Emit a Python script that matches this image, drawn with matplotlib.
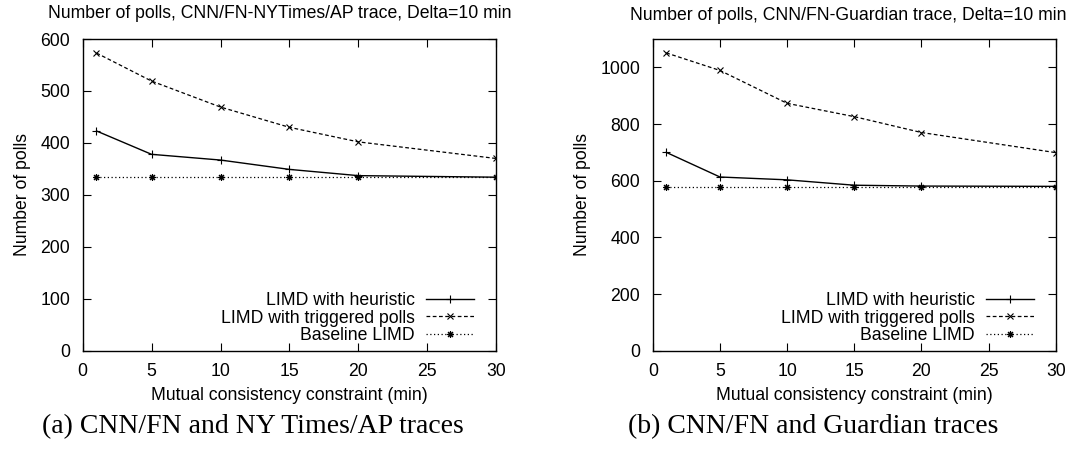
import matplotlib
matplotlib.use('Agg')
import matplotlib.pyplot as plt

# data
x = [1, 5, 10, 15, 20, 30]

nyt_heuristic = [423, 378, 367, 349, 337, 334]
nyt_triggered = [573, 519, 469, 430, 402, 370]
nyt_baseline = [334, 334, 334, 334, 334, 334]

gdn_heuristic = [700, 613, 603, 584, 581, 580]
gdn_triggered = [1051, 989, 873, 826, 770, 699]
gdn_baseline = [579, 579, 579, 579, 579, 579]

titles = ["Number of polls, CNN/FN-NYTimes/AP trace, Delta=10 min",
          "Number of polls, CNN/FN-Guardian trace, Delta=10 min"]
captions = ["(a) CNN/FN and NY Times/AP traces",
            "(b) CNN/FN and Guardian traces"]
labels = ["LIMD with heuristic", "LIMD with triggered polls", "Baseline LIMD"]

plt.rcParams['font.family'] = 'Liberation Sans'
plt.rcParams['font.size'] = 12.7

fig = plt.figure(figsize=(10.88, 4.51), dpi=100)
ax1 = fig.add_axes([0.076, 0.2224, 0.380, 0.6911])
ax2 = fig.add_axes([0.600, 0.2224, 0.3704, 0.6911])

star = (8, 2, 0)


def draw(ax, heur, trig, base, ymax, yticks):
    ax.plot(x, heur, color='black', lw=1.0, ls='-', marker='+', ms=6, mew=0.8, label=labels[0])
    ax.plot(x, trig, color='black', lw=0.9, ls=(0, (3, 2)), marker='x', ms=5, mew=0.8, label=labels[1])
    ax.plot(x, base, color='black', lw=0.9, ls=(0, (1, 2)), marker=star, ms=5, mew=0.8, label=labels[2])
    ax.set_xlim(0, 30)
    ax.set_ylim(0, ymax)
    ax.set_xticks(range(0, 31, 5))
    ax.set_yticks(yticks)
    ax.tick_params(direction='in', top=True, right=True, length=6, width=0.8, pad=9, labelsize=12.7)
    for s in ax.spines.values():
        s.set_linewidth(1.0)
    ax.set_xlabel("Mutual consistency constraint (min)", labelpad=5)
    ax.set_ylabel("Number of polls", labelpad=7)
    ax.legend(loc='lower right', frameon=False, markerfirst=False,
              handlelength=2.7, handletextpad=0.65, labelspacing=0.05,
              borderaxespad=0, borderpad=0, bbox_to_anchor=(0.946, 0.02))


draw(ax1, nyt_heuristic, nyt_triggered, nyt_baseline, 600, range(0, 601, 100))
draw(ax2, gdn_heuristic, gdn_triggered, gdn_baseline, 1100, range(0, 1001, 200))

fig.text(0.257, 0.971, titles[0], ha='center', va='center')
fig.text(0.780, 0.965, titles[1], ha='center', va='center')

fig.text(0.232, 0.040, captions[0], ha='center', va='baseline', fontsize=20, family='Liberation Serif')
fig.text(0.747, 0.040, captions[1], ha='center', va='baseline', fontsize=20, family='Liberation Serif')

plt.savefig("out.png", dpi=100)
